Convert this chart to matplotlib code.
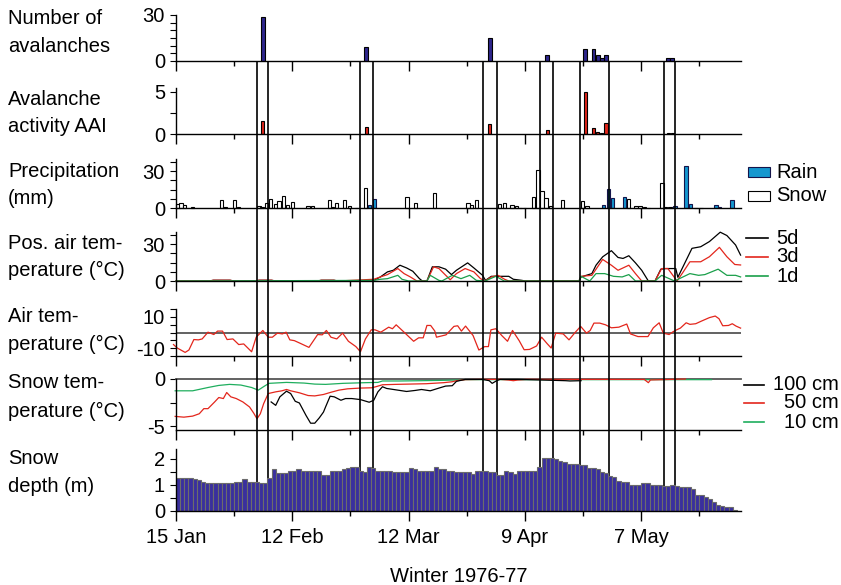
import matplotlib.pyplot as plt
from matplotlib.lines import Line2D
from matplotlib.patches import Rectangle
from matplotlib.ticker import FixedLocator

plt.rcParams['font.family'] = ['Liberation Sans', 'DejaVu Sans']
plt.rcParams['font.size'] = 14.5
plt.rcParams['axes.unicode_minus'] = False

# ---- data (x = days after 15 Jan 1977) ----
tick_days = [0, 28, 56, 84, 112]
tick_labels = ["15 Jan", "12 Feb", "12 Mar", "9 Apr", "7 May"]
minor_days = [14, 42, 70, 98, 126]

aval_day = [20.9, 45.8, 75.5, 89.4, 98.5, 100.5, 101.5, 102.5, 103.5, 118.5, 119.5]
aval_n = [29, 9, 15, 4, 8, 8, 4, 2, 4, 2, 2]
aai = [1.55, 0.8, 1.2, 0.43, 5.0, 0.7, 0.27, 0.15, 1.28, 0.1, 0.1]

# avalanche periods (start, end)
periods = [(19.5, 22.2), (44.2, 47.4), (73.8, 77.2), (87.7, 90.8), (97.2, 104.2), (117.5, 120.1)]

snow_day = [0.5, 1.2, 2.1, 4.0, 10.9, 11.8, 14.0, 15.0, 20.0, 20.7, 21.8, 22.8, 23.9, 24.8,
            25.8, 26.8, 28.0, 31.8, 32.9, 36.9, 37.7, 38.6, 40.6, 41.7, 43.4, 45.6, 55.6,
            57.6, 62.3, 70.3, 71.2, 72.3, 77.9, 79.1, 80.9, 81.9, 82.9, 83.9, 86.1, 87.1,
            88.1, 89.1, 90.1, 93.1, 97.9, 98.9, 108.9, 110.7, 111.7, 112.7, 113.8, 117.0,
            117.9, 118.9, 125.2, 126.4]
snow_mm = [3.2, 4, 2.4, 0.5, 6.5, 0.5, 6.5, 0.5, 1.4, 1.2, 4, 7, 3, 5.4,
           10, 2.5, 4.6, 1.5, 1.5, 6.5, 0.5, 4, 6.5, 1.9, 0.3, 16.2, 9.2,
           4.0, 11.9, 4, 2.5, 6.5, 3, 4, 2.4, 1.5, 0.4, 0.3, 8.9, 30.8,
           13.5, 8.1, 2, 6.5, 5.4, 1.5, 7.3, 1.5, 1.5, 0.5, 0.3, 20.3,
           0.5, 0.5, 0.3, 0.3]
rain_day = [46.6, 47.8, 102.9, 104.1, 105.1, 107.9, 120.1, 122.8, 123.8, 130.0, 130.9, 133.8]
rain_mm = [2.4, 7.3, 2.4, 15.4, 8.1, 9.2, 1.5, 34.3, 3.2, 2.4, 1.0, 6.8]

# positive air temperature sums
t5_day = [0, 8, 9, 13, 14, 19, 20, 23, 24, 34, 35, 38, 39, 47.6, 49.2, 50.9, 52.3, 53.9, 55.5,
          57.0, 58.6, 59.3, 60.4, 61.7, 63.3, 64.9, 66.3, 67.5, 70.2, 71.7, 73.8, 74.5, 75.9,
          80.1, 81.2, 83.3, 84, 97, 97.5, 100.1, 101.1, 102.7, 104.8, 106.4, 107.6, 109.0,
          110.6, 112.1, 113.7, 115.3, 116.7, 117.9, 120.3, 120.8, 122.1, 124.2, 126.3, 128.4,
          131.0, 132.6, 134.7, 135.9]
t5_val = [0, 0, 0.6, 0.6, 0, 0, 0.6, 0.6, 0, 0, 0.6, 0.6, 0, 0.5, 3.3, 7.4, 8.7, 12.8, 10.6,
          7.9, 1.9, 0, 0, 11.5, 11.5, 9.6, 5.2, 8.7, 14.7, 10.6, 4.6, 0.5, 3.8,
          3.8, 1.4, 0.5, 0, 0, 3.3, 6.0, 12.8, 19.6, 24.6, 19.1, 18.3, 20.5,
          14.7, 8.7, 0, 0, 9.6, 10.1, 10.1, 3.0, 12.0, 26.5, 27.8, 32.0,
          39.6, 36.9, 29.2, 21.0]
t3_day = [0, 8, 9, 13, 14, 19, 20, 23, 24, 34, 35, 38, 39, 47.6, 49.2, 50.9, 53.4, 54.9, 56.4,
          58.0, 60.4, 62.0, 63.3, 66.0, 67.5, 69.6, 71.7, 73.3, 74.4, 75.9, 77.5, 79.1, 80.1,
          97, 97.5, 100.1, 102.7, 104.8, 106.4, 109.0, 110.6, 112.1, 115.3, 116.9, 118.4,
          120.6, 122.1, 123.7, 126.3, 128.4, 130.8, 132.6, 134.5, 135.9]
t3_val = [0, 0, 0.6, 0.6, 0, 0, 0.6, 0.6, 0, 0, 0.6, 0.6, 0, 1.4, 3.3, 5.2, 10.1, 6.0, 3.3,
          0, 0, 11.5, 10.1, 1.0, 6.0, 10.1, 7.4, 1.9, 0, 3.3, 4.6, 1.4, 0,
          0, 3.8, 4.6, 17.5, 12.8, 8.7, 12.8, 6.0, 0, 0, 10.1, 10.1,
          0, 7.4, 15.6, 15.6, 19.7, 27.3, 19.7, 13.4, 13.0]
t1_day = [0, 47.6, 49.2, 50.9, 53.4, 54.4, 56.0, 60.4, 61.2, 63.3, 64.0, 66.5, 68.6, 70.7,
          72.3, 74.4, 77.0, 79.0, 97.0, 97.5, 99.6, 101.1, 103.2, 105.3, 107.4, 109.0, 110.6,
          115.3, 116.9, 120.0, 123.7, 125.8, 127.3, 130.5, 132.6, 134.7, 135.9]
t1_val = [0, 0.5, 1.4, 1.9, 4.6, 1.4, 0, 0, 4.6, 0.5, 0, 4.6, 1.9, 4.6,
          0.5, 0, 3.8, 0, 0, 3.8, 0, 6.0, 6.0, 3.8, 3.3, 5.2, 0,
          0, 4.6, 0, 6.0, 4.6, 5.2, 9.6, 4.6, 4.6, 3.3]

# air temperature
air_day = [-0.6, 0.3, 2.2, 3.1, 4.3, 5.4, 6.3, 7.7, 9.1, 10.0, 11.2, 12.3, 13.7, 15.1, 16.3,
           18.2, 19.3, 20.9, 22.2, 23.2, 24.4, 25.6, 26.5, 27.4, 28.5, 29.9, 32.0, 34.1, 35.2,
           36.2, 37.3, 38.7, 40.1, 41.5, 43.3, 44.4, 45.6, 47.0, 47.9, 49.3, 51.2, 52.1, 53.0,
           54.9, 57.2, 58.4, 59.5, 60.4, 61.3, 62.3, 62.7, 65.0, 66.9, 67.8, 68.7, 69.7, 71.5,
           72.9, 74.3, 75.2, 75.8, 77.0, 78.4, 79.8, 81.0, 82.6, 83.8, 85.1, 86.8, 88.0, 89.4,
           90.3, 91.4, 93.2, 94.6, 96.0, 97.4, 98.8, 99.7, 100.6, 102.0, 103.4, 104.8, 106.6,
           108.5, 109.4, 111.2, 113.6, 114.9, 116.3, 117.3, 118.7, 119.6, 120.5, 121.4, 122.8,
           123.7, 125.1, 126.5, 128.4, 129.8, 130.7, 131.6, 133.0, 133.9, 134.8, 135.9]
air_val = [-7.7, -9.9, -12.7, -11.2, -4.5, -4.7, -4.1, 0.2, -1.3, 0.9, 0.9, -4.5, -4.1, -7.7, -7.3,
           -12.3, -3.0, 1.3, -3.0, -3.0, -0.4, -0.9, 0.2, -4.7, -5.2, -6.9, -9.5, -1.3, -1.5,
           1.3, -3.0, -4.1, -0.4, -5.6, -9.0, -12.3, -4.1, 1.7, 1.7, 0.2, 3.4, 2.4, 4.9,
           0.2, -5.6, -3.4, -3.4, 4.5, 4.5, 0.9, -3.0, -1.5, 3.9, 4.3, 0.9, 4.1, -1.9,
           -11.2, -9.0, -9.0, 1.7, 2.4, -1.9, -5.6, 1.3, -5.2, -11.0, -10.8, -8.6, -3.0, -7.3,
           -9.9, -0.4, -0.9, -4.7, -0.2, 3.9, -0.4, 1.3, 6.0, 6.0, 4.9, 3.0, 3.4,
           5.4, -0.9, -2.6, -2.6, 3.0, 6.2, -0.4, -1.3, 0.4, 1.7, 2.8, 6.2,
           5.2, 5.6, 7.3, 9.5, 10.5, 8.8, 4.3, 4.5, 5.6, 4.1, 2.8]

# snow temperatures
st10_day = [-0.2, 4.0, 5.6, 7.7, 10.3, 12.9, 15.6, 18.2, 19.8, 21.3, 22.4, 26.6, 30.8, 33.4,
            36.0, 40.2, 45.5, 48.6, 49.7, 53.9, 59.1, 64.4, 68.6, 69.6, 128.9]
st10_val = [-1.25, -1.25, -1.1, -0.9, -0.68, -0.57, -0.64, -0.9, -1.18, -0.75, -0.46, -0.36,
            -0.43, -0.54, -0.57, -0.46, -0.39, -0.36, -0.21, -0.21, -0.18, -0.14, -0.1, -0.07, -0.07]
st50_day = [-0.2, 1.9, 4.0, 5.6, 6.7, 7.7, 9.3, 10.3, 11.4, 12.2, 13.2, 14.5, 16.1, 17.7, 18.7,
            19.5, 20.3, 21.1, 22.2, 24.0, 25.5, 26.6, 27.6, 29.7, 31.8, 33.4, 35.5, 37.1, 39.2,
            41.3, 44.4, 47.1, 48.1, 49.7, 52.8, 56.0, 60.2, 64.4, 66.5, 67.5, 69.6, 73.8, 78.0,
            80.1, 81.2, 82.2, 84.3, 112.7, 113.7, 114.2, 122.6]
st50_val = [-3.96, -4.04, -3.93, -3.68, -3.14, -3.14, -2.43, -1.96, -2.07, -1.43, -1.89, -2.07,
            -2.43, -2.96, -3.61, -4.21, -3.68, -2.61, -1.54, -1.36, -1.25, -1.11, -1.25, -1.46,
            -1.75, -1.79, -1.64, -1.43, -1.18, -1.04, -0.96, -0.93, -0.82, -0.61, -0.57, -0.54,
            -0.5, -0.39, -0.29, -0.18, -0.07, -0.04, -0.04, -0.11, -0.18, -0.11, -0.04, -0.04,
            -0.39, -0.1, 0.0]
st100_day = [22.9, 24.0, 25.0, 26.6, 27.6, 28.7, 29.7, 31.3, 32.4, 33.4, 34.5, 35.5, 36.0, 37.1,
             38.1, 39.7, 40.8, 42.3, 44.4, 46.5, 47.6, 48.6, 49.7, 50.7, 52.8, 55.5, 57.6, 59.1,
             61.2, 63.3, 64.9, 66.5, 67.5, 69.6, 73.8, 75.4, 76.1, 77.2, 78.0, 82.2, 88.5, 93.8,
             94.8, 97.5]
st100_val = [-2.43, -2.79, -1.89, -1.29, -1.54, -2.36, -2.54, -3.86, -4.68, -4.68, -4.11, -3.5,
             -2.96, -1.82, -1.89, -2.25, -2.07, -2.07, -2.18, -2.46, -2.25, -1.36, -0.82, -1.0,
             -1.14, -1.32, -1.21, -1.11, -1.25, -0.96, -0.75, -0.71, -0.25, -0.04, -0.04, -0.18,
             -0.46, -0.18, -0.04, -0.04, -0.11, -0.18, -0.21, -0.18]

# snow depth, one value per day from 15 Jan
depth = [1.27, 1.28, 1.28, 1.28, 1.25, 1.18, 1.10, 1.08, 1.08, 1.08, 1.08, 1.08, 1.08, 1.08,
         1.10, 1.13, 1.22, 1.12, 1.12, 1.10, 1.07, 1.07, 1.27, 1.63, 1.48, 1.48, 1.48, 1.55,
         1.55, 1.60, 1.55, 1.55, 1.55, 1.55, 1.55, 1.38, 1.38, 1.55, 1.55, 1.55, 1.60, 1.65,
         1.70, 1.68, 1.52, 1.50, 1.70, 1.65, 1.55, 1.55, 1.55, 1.55, 1.50, 1.50, 1.50, 1.50,
         1.65, 1.62, 1.55, 1.55, 1.55, 1.55, 1.70, 1.62, 1.60, 1.55, 1.55, 1.50, 1.50, 1.50,
         1.50, 1.42, 1.52, 1.52, 1.52, 1.50, 1.50, 1.38, 1.40, 1.55, 1.50, 1.42, 1.52, 1.52,
         1.52, 1.52, 1.52, 1.70, 2.02, 2.05, 2.05, 2.00, 1.93, 1.90, 1.82, 1.82, 1.82, 1.78,
         1.78, 1.65, 1.65, 1.60, 1.50, 1.45, 1.35, 1.32, 1.15, 1.13, 1.12, 1.00, 1.00, 1.00,
         1.07, 1.07, 1.00, 1.00, 1.00, 0.97, 0.97, 1.00, 0.95, 0.92, 0.92, 0.92, 0.85, 0.62,
         0.62, 0.55, 0.48, 0.35, 0.25, 0.20, 0.15, 0.15, 0.03]

panel_labels = [["Number of", "avalanches"], ["Avalanche", "activity AAI"],
                ["Precipitation", "(mm)"], ["Pos. air tem-", "perature (\u00b0C)"],
                ["Air tem-", "perature (\u00b0C)"], ["Snow tem-", "perature (\u00b0C)"],
                ["Snow", "depth (m)"]]

# ---- figure ----
W, H = 841, 585
fig = plt.figure(figsize=(W / 100, H / 100), dpi=100)
X0, X1 = 176, 741
XMAX = 136


def fx(px):
    return px / W


def fy(py):
    return 1 - py / H


def panel(py_top, py_bot, ylim, zorder=1):
    ax = fig.add_axes([fx(X0), fy(py_bot), fx(X1 - X0), (py_bot - py_top) / H])
    ax.set_zorder(zorder)
    ax.patch.set_alpha(0)
    ax.set_xlim(0, XMAX)
    ax.set_ylim(*ylim)
    for s in ['top', 'right']:
        ax.spines[s].set_visible(False)
    for s in ['left', 'bottom']:
        ax.spines[s].set_linewidth(1.0)
    ax.xaxis.set_major_locator(FixedLocator(tick_days))
    ax.xaxis.set_minor_locator(FixedLocator(minor_days))
    ax.tick_params(axis='x', which='major', length=7, width=1, pad=5)
    ax.tick_params(axis='x', which='minor', length=3.5, width=1)
    ax.tick_params(axis='y', which='both', length=4, width=0.8, pad=4)
    ax.set_xticklabels([])
    return ax


ax1 = panel(15, 61, (0, 30))
ax1.bar(aval_day, aval_n, width=0.95, color='#2e268c', edgecolor='black', linewidth=0.8)
ax1.yaxis.set_major_locator(FixedLocator([0, 30]))
ax1.yaxis.set_minor_locator(FixedLocator([5, 10, 15, 20, 25]))

ax2 = panel(87.8, 134, (0, 5.5))
ax2.bar(aval_day, aai, width=0.8, color='#e0261b', edgecolor='black', linewidth=0.8)
ax2.yaxis.set_major_locator(FixedLocator([0, 5]))
ax2.yaxis.set_minor_locator(FixedLocator([2.5]))

ax3 = panel(158.7, 208, (0, 40))
ax3.bar(snow_day, snow_mm, width=0.8, color='white', edgecolor='black', linewidth=0.8, clip_on=False)
ax3.bar(rain_day, rain_mm, width=0.8, color='#1597cf', edgecolor='#14144a', linewidth=0.8)
ax3.yaxis.set_major_locator(FixedLocator([0, 30]))
ax3.yaxis.set_minor_locator(FixedLocator([7.5, 15, 22.5, 37.5]))

ax4 = panel(231.7, 281, (0, 40))
ax4.plot(t5_day, t5_val, color='black', lw=0.9, clip_on=False)
ax4.plot(t3_day, t3_val, color='#e3261c', lw=0.9, clip_on=False)
ax4.plot(t1_day, t1_val, color='#1a9f4a', lw=0.9, clip_on=False)
ax4.yaxis.set_major_locator(FixedLocator([0, 30]))
ax4.yaxis.set_minor_locator(FixedLocator([7.5, 15, 22.5, 37.5]))

ax5 = panel(309, 356, (-15, 15))
ax5.axhline(0, color='#555555', lw=1.3)
ax5.plot(air_day, air_val, color='#e3261c', lw=0.9, clip_on=False)
ax5.yaxis.set_major_locator(FixedLocator([-10, 10]))
ax5.yaxis.set_minor_locator(FixedLocator([-15, -5, 0, 5, 15]))

ax6 = panel(379, 430, (-5.4, 0))
ax6.axhline(0, color='#555555', lw=1.3, clip_on=False)
ax6.plot(st10_day, st10_val, color='#1fae5e', lw=0.9, clip_on=False)
ax6.plot(st50_day, st50_val, color='#e3261c', lw=0.9, clip_on=False)
ax6.plot(st100_day, st100_val, color='black', lw=0.9, clip_on=False)
ax6.yaxis.set_major_locator(FixedLocator([-5, 0]))
ax6.yaxis.set_minor_locator(FixedLocator([-2.5]))

ax7 = panel(448.6, 511, (0, 2.4), zorder=3)
ax7.bar([d + 0.5 for d in range(len(depth))], depth, width=1.0, color='#3a2f9e',
        edgecolor='#6c6c6c', linewidth=0.8)
ax7.yaxis.set_major_locator(FixedLocator([0, 1, 2]))
ax7.yaxis.set_minor_locator(FixedLocator([0.5, 1.5]))
ax7.set_xticklabels(tick_labels)
ax7.set_xlabel("Winter 1976-77", labelpad=15)

# avalanche period boxes across all panels (behind the snow depth bars)
bg = fig.add_axes([fx(X0), fy(511), fx(X1 - X0), (511 - 61) / H])
bg.set_zorder(2)
bg.patch.set_alpha(0)
bg.set_xlim(0, XMAX)
bg.set_ylim(0, 1)
bg.axis('off')
for a, b in periods:
    bg.add_patch(Rectangle((a, 0), b - a, 1, fill=False, edgecolor='black', lw=1.2))

# panel labels
label_y = [(18, 47), (99, 127), (171, 198), (243, 270), (316, 344), (383, 411), (459, 486)]
for lines, ys in zip(panel_labels, label_y):
    for txt, yy in zip(lines, ys):
        fig.text(fx(8), fy(yy), txt, ha='left', va='center')

# legends
fig.add_artist(Rectangle((fx(748), fy(177)), fx(22), 10 / H, transform=fig.transFigure,
                         facecolor='#1597cf', edgecolor='#14144a', lw=0.8))
fig.add_artist(Rectangle((fx(748), fy(201)), fx(22), 10 / H, transform=fig.transFigure,
                         facecolor='white', edgecolor='black', lw=0.8))
fig.text(fx(776), fy(172), "Rain", ha='left', va='center')
fig.text(fx(776), fy(196), "Snow", ha='left', va='center')

for lab, col, yy in zip(["5d", "3d", "1d"], ['black', '#e3261c', '#1a9f4a'], [238, 257, 276]):
    fig.add_artist(Line2D([fx(746), fx(768)], [fy(yy), fy(yy)], color=col, lw=1.2,
                          transform=fig.transFigure))
    fig.text(fx(776), fy(yy), lab, ha='left', va='center')

for lab, col, yy in zip(["100 cm", "50 cm", "10 cm"], ['black', '#e3261c', '#1fae5e'], [385, 403, 422]):
    fig.add_artist(Line2D([fx(744), fx(764)], [fy(yy), fy(yy)], color=col, lw=1.2,
                          transform=fig.transFigure))
    fig.text(fx(839), fy(yy), lab, ha='right', va='center')

fig.savefig("out.png", dpi=100)
